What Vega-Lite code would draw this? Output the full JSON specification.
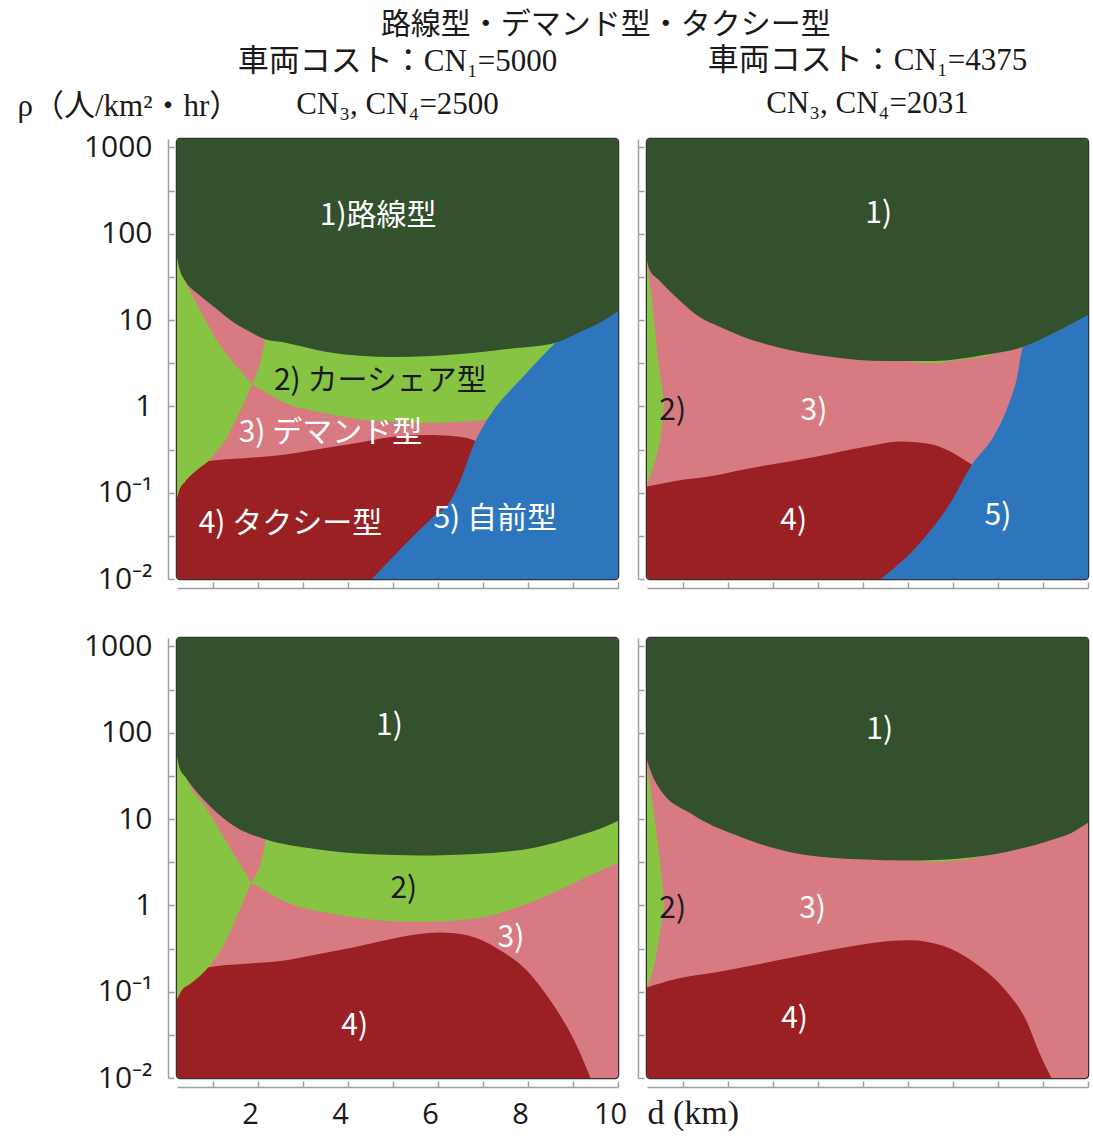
{
"$schema": "https://vega.github.io/schema/vega-lite/v6.json",
"background": "white",
"padding": {"left": 15, "top": 9, "right": 2, "bottom": 2},
"title": {"text": "路線型・デマンド型・タクシー型", "font": "Noto Sans CJK JP", "fontSize": 30, "fontWeight": "normal", "color": "#1a1a1a", "anchor": "middle", "dx": 53, "offset": 4},
"datasets": {
"p1": [
{"r":"3","x":0.2,"lo":0.01,"hi":1250},{"r":"3","x":10,"lo":0.01,"hi":1250},
{"r":"4","x":0.2,"lo":0.01,"hi":0.087},{"r":"4","x":0.24,"lo":0.01,"hi":0.104},{"r":"4","x":0.38,"lo":0.01,"hi":0.135},{"r":"4","x":0.53,"lo":0.01,"hi":0.163},{"r":"4","x":0.68,"lo":0.01,"hi":0.19},{"r":"4","x":0.9,"lo":0.01,"hi":0.232},{"r":"4","x":1.7,"lo":0.01,"hi":0.25},{"r":"4","x":2.61,"lo":0.01,"hi":0.277},{"r":"4","x":3.53,"lo":0.01,"hi":0.331},{"r":"4","x":4.3,"lo":0.01,"hi":0.384},{"r":"4","x":5.12,"lo":0.01,"hi":0.45},{"r":"4","x":5.87,"lo":0.01,"hi":0.465},{"r":"4","x":6.61,"lo":0.01,"hi":0.432},{"r":"4","x":6.83,"lo":0.01,"hi":0.396},{"r":"4","x":7.2,"lo":0.01,"hi":0.3},
{"r":"2B","x":1.87,"lo":1.8,"hi":1.8},{"r":"2B","x":2.16,"lo":1.47,"hi":6.1},{"r":"2B","x":2.61,"lo":1.09,"hi":1250},{"r":"2B","x":3.5,"lo":0.83,"hi":1250},{"r":"2B","x":4.27,"lo":0.706,"hi":1250},{"r":"2B","x":5.0,"lo":0.665,"hi":1250},{"r":"2B","x":5.76,"lo":0.645,"hi":1250},{"r":"2B","x":6.4,"lo":0.66,"hi":1250},{"r":"2B","x":7.09,"lo":0.706,"hi":1250},{"r":"2B","x":8.0,"lo":0.85,"hi":1250},{"r":"2B","x":10,"lo":1.0,"hi":1250},
{"r":"5","x":4.53,"lo":0.01,"hi":0.01},{"r":"5","x":5.12,"lo":0.01,"hi":0.021},{"r":"5","x":5.87,"lo":0.01,"hi":0.0512},{"r":"5","x":6.27,"lo":0.01,"hi":0.08},{"r":"5","x":6.46,"lo":0.01,"hi":0.125},{"r":"5","x":6.83,"lo":0.01,"hi":0.396},{"r":"5","x":7.12,"lo":0.01,"hi":0.738},{"r":"5","x":7.87,"lo":0.01,"hi":2.14},{"r":"5","x":8.61,"lo":0.01,"hi":5.46},{"r":"5","x":10,"lo":0.01,"hi":20},
{"r":"2L","x":0.2,"lo":0.087,"hi":52.7},{"r":"2L","x":0.24,"lo":0.104,"hi":45},{"r":"2L","x":0.38,"lo":0.135,"hi":28},{"r":"2L","x":0.53,"lo":0.163,"hi":19.7},{"r":"2L","x":0.68,"lo":0.19,"hi":13.9},{"r":"2L","x":0.9,"lo":0.232,"hi":8.6},{"r":"2L","x":1.05,"lo":0.288,"hi":6.2},{"r":"2L","x":1.27,"lo":0.396,"hi":4.3},{"r":"2L","x":1.42,"lo":0.565,"hi":3.35},{"r":"2L","x":1.57,"lo":0.81,"hi":2.72},{"r":"2L","x":1.87,"lo":1.8,"hi":1.8},
{"r":"1","x":0.2,"lo":52.7,"hi":1250},{"r":"1","x":0.25,"lo":40,"hi":1250},{"r":"1","x":0.38,"lo":28.5,"hi":1250},{"r":"1","x":0.68,"lo":19.8,"hi":1250},{"r":"1","x":1.05,"lo":13.9,"hi":1250},{"r":"1","x":1.42,"lo":9.7,"hi":1250},{"r":"1","x":1.79,"lo":7.45,"hi":1250},{"r":"1","x":2.16,"lo":5.97,"hi":1250},{"r":"1","x":2.61,"lo":5.46,"hi":1250},{"r":"1","x":3.5,"lo":4.3,"hi":1250},{"r":"1","x":5.01,"lo":3.72,"hi":1250},{"r":"1","x":6.5,"lo":4.03,"hi":1250},{"r":"1","x":7.53,"lo":4.61,"hi":1250},{"r":"1","x":8.61,"lo":5.46,"hi":1250},{"r":"1","x":9.2,"lo":7.45,"hi":1250},{"r":"1","x":9.6,"lo":9.3,"hi":1250},{"r":"1","x":10,"lo":12.7,"hi":1250},
{"r":"t","x":4.67,"lo":160,"t":"1)路線型"},{"r":"t","x":4.72,"lo":1.96,"t":"2) カーシェア型"},{"r":"t","x":3.61,"lo":0.49,"t":"3) デマンド型"},{"r":"t","x":2.72,"lo":0.043,"t":"4) タクシー型"},{"r":"t","x":7.27,"lo":0.049,"t":"5) 自前型"}
],
"p2": [
{"r":"3","x":0.2,"lo":0.01,"hi":1250},{"r":"3","x":10,"lo":0.01,"hi":1250},
{"r":"4","x":0.2,"lo":0.01,"hi":0.118},{"r":"4","x":0.77,"lo":0.01,"hi":0.135},{"r":"4","x":1.8,"lo":0.01,"hi":0.161},{"r":"4","x":2.13,"lo":0.01,"hi":0.176},{"r":"4","x":3.98,"lo":0.01,"hi":0.263},{"r":"4","x":5.09,"lo":0.01,"hi":0.343},{"r":"4","x":5.83,"lo":0.01,"hi":0.392},{"r":"4","x":6.2,"lo":0.01,"hi":0.385},{"r":"4","x":6.57,"lo":0.01,"hi":0.359},{"r":"4","x":7.31,"lo":0.01,"hi":0.23},{"r":"4","x":7.42,"lo":0.01,"hi":0.211},{"r":"4","x":7.8,"lo":0.01,"hi":0.12},
{"r":"5","x":5.39,"lo":0.01,"hi":0.01},{"r":"5","x":6.2,"lo":0.01,"hi":0.024},{"r":"5","x":6.94,"lo":0.01,"hi":0.0759},{"r":"5","x":7.42,"lo":0.01,"hi":0.211},{"r":"5","x":7.9,"lo":0.01,"hi":0.448},{"r":"5","x":8.19,"lo":0.01,"hi":0.91},{"r":"5","x":8.41,"lo":0.01,"hi":2.02},{"r":"5","x":8.56,"lo":0.01,"hi":4.9},{"r":"5","x":10,"lo":0.01,"hi":16},
{"r":"2L","x":0.2,"lo":0.125,"hi":45},{"r":"2L","x":0.32,"lo":0.185,"hi":15.5},{"r":"2L","x":0.37,"lo":0.22,"hi":8.5},{"r":"2L","x":0.43,"lo":0.3,"hi":4.1},{"r":"2L","x":0.51,"lo":0.45,"hi":2.03},{"r":"2L","x":0.58,"lo":1.09,"hi":1.09},
{"r":"2T","x":5.9,"lo":3.35,"hi":50},{"r":"2T","x":6.57,"lo":3.17,"hi":50},{"r":"2T","x":7.2,"lo":3.5,"hi":50},{"r":"2T","x":7.68,"lo":3.78,"hi":50},{"r":"2T","x":8.0,"lo":4.2,"hi":50},
{"r":"1","x":0.2,"lo":49,"hi":1250},{"r":"1","x":0.25,"lo":39,"hi":1250},{"r":"1","x":0.47,"lo":28.9,"hi":1250},{"r":"1","x":0.92,"lo":17,"hi":1250},{"r":"1","x":1.36,"lo":10.9,"hi":1250},{"r":"1","x":1.8,"lo":8.4,"hi":1250},{"r":"1","x":2.3,"lo":6.5,"hi":1250},{"r":"1","x":2.87,"lo":5.2,"hi":1250},{"r":"1","x":4.35,"lo":3.7,"hi":1250},{"r":"1","x":5.46,"lo":3.35,"hi":1250},{"r":"1","x":6.57,"lo":3.35,"hi":1250},{"r":"1","x":7.68,"lo":3.93,"hi":1250},{"r":"1","x":8.56,"lo":4.9,"hi":1250},{"r":"1","x":9.37,"lo":7.66,"hi":1250},{"r":"1","x":10,"lo":11.4,"hi":1250},
{"r":"t","x":5.35,"lo":170,"t":"1)"},{"r":"t","x":0.77,"lo":0.875,"t":"2)"},{"r":"t","x":3.91,"lo":0.875,"t":"3)"},{"r":"t","x":3.46,"lo":0.047,"t":"4)"},{"r":"t","x":8.0,"lo":0.054,"t":"5)"}
],
"p3": [
{"r":"3","x":0.2,"lo":0.01,"hi":1250},{"r":"3","x":10,"lo":0.01,"hi":1250},
{"r":"4","x":0.2,"lo":0.01,"hi":0.082},{"r":"4","x":0.32,"lo":0.01,"hi":0.107},{"r":"4","x":0.48,"lo":0.01,"hi":0.122},{"r":"4","x":0.89,"lo":0.01,"hi":0.19},{"r":"4","x":1.7,"lo":0.01,"hi":0.21},{"r":"4","x":2.5,"lo":0.01,"hi":0.227},{"r":"4","x":3.3,"lo":0.01,"hi":0.27},{"r":"4","x":4.11,"lo":0.01,"hi":0.324},{"r":"4","x":4.7,"lo":0.01,"hi":0.38},{"r":"4","x":5.32,"lo":0.01,"hi":0.443},{"r":"4","x":6.05,"lo":0.01,"hi":0.484},{"r":"4","x":6.69,"lo":0.01,"hi":0.443},{"r":"4","x":7.34,"lo":0.01,"hi":0.311},{"r":"4","x":7.98,"lo":0.01,"hi":0.175},{"r":"4","x":8.55,"lo":0.01,"hi":0.0718},{"r":"4","x":9.03,"lo":0.01,"hi":0.027},{"r":"4","x":9.39,"lo":0.01,"hi":0.01},
{"r":"2B","x":1.85,"lo":1.83,"hi":1.83},{"r":"2B","x":2.18,"lo":1.46,"hi":6.0},{"r":"2B","x":2.5,"lo":1.17,"hi":1250},{"r":"2B","x":3.71,"lo":0.787,"hi":1250},{"r":"2B","x":4.92,"lo":0.66,"hi":1250},{"r":"2B","x":5.73,"lo":0.644,"hi":1250},{"r":"2B","x":6.93,"lo":0.724,"hi":1250},{"r":"2B","x":8.14,"lo":1.12,"hi":1250},{"r":"2B","x":9.11,"lo":1.92,"hi":1250},{"r":"2B","x":10,"lo":3.12,"hi":1250},
{"r":"2L","x":0.2,"lo":0.082,"hi":53.5},{"r":"2L","x":0.32,"lo":0.107,"hi":38},{"r":"2L","x":0.44,"lo":0.118,"hi":27.4},{"r":"2L","x":0.89,"lo":0.19,"hi":12.4},{"r":"2L","x":1.29,"lo":0.389,"hi":5.57},{"r":"2L","x":1.61,"lo":0.94,"hi":2.95},{"r":"2L","x":1.85,"lo":1.83,"hi":1.83},
{"r":"1","x":0.2,"lo":53.5,"hi":1250},{"r":"1","x":0.25,"lo":40,"hi":1250},{"r":"1","x":0.4,"lo":30,"hi":1250},{"r":"1","x":0.89,"lo":14.8,"hi":1250},{"r":"1","x":1.53,"lo":7.9,"hi":1250},{"r":"1","x":2.18,"lo":5.8,"hi":1250},{"r":"1","x":3.31,"lo":4.47,"hi":1250},{"r":"1","x":4.51,"lo":3.9,"hi":1250},{"r":"1","x":5.56,"lo":3.79,"hi":1250},{"r":"1","x":6.93,"lo":3.97,"hi":1250},{"r":"1","x":8.14,"lo":4.66,"hi":1250},{"r":"1","x":9.11,"lo":6.35,"hi":1250},{"r":"1","x":9.6,"lo":7.7,"hi":1250},{"r":"1","x":10,"lo":9.5,"hi":1250},
{"r":"t","x":4.92,"lo":119,"t":"1)"},{"r":"t","x":5.24,"lo":1.53,"t":"2)"},{"r":"t","x":7.62,"lo":0.42,"t":"3)"},{"r":"t","x":4.15,"lo":0.04,"t":"4)"}
],
"p4": [
{"r":"3","x":0.2,"lo":0.01,"hi":1250},{"r":"3","x":10,"lo":0.01,"hi":1250},
{"r":"4","x":0.2,"lo":0.01,"hi":0.112},{"r":"4","x":0.84,"lo":0.01,"hi":0.14},{"r":"4","x":1.8,"lo":0.01,"hi":0.17},{"r":"4","x":2.7,"lo":0.01,"hi":0.209},{"r":"4","x":3.45,"lo":0.01,"hi":0.25},{"r":"4","x":4.18,"lo":0.01,"hi":0.297},{"r":"4","x":4.75,"lo":0.01,"hi":0.335},{"r":"4","x":5.29,"lo":0.01,"hi":0.372},{"r":"4","x":6.03,"lo":0.01,"hi":0.395},{"r":"4","x":6.78,"lo":0.01,"hi":0.34},{"r":"4","x":7.52,"lo":0.01,"hi":0.209},{"r":"4","x":8.11,"lo":0.01,"hi":0.112},{"r":"4","x":8.63,"lo":0.01,"hi":0.046},{"r":"4","x":8.93,"lo":0.01,"hi":0.019},{"r":"4","x":9.19,"lo":0.01,"hi":0.01},
{"r":"2L","x":0.2,"lo":0.112,"hi":42.6},{"r":"2L","x":0.33,"lo":0.175,"hi":14.6},{"r":"2L","x":0.47,"lo":0.42,"hi":3.88},{"r":"2L","x":0.585,"lo":1.03,"hi":1.03},
{"r":"2T","x":5.8,"lo":3.32,"hi":50},{"r":"2T","x":6.6,"lo":3.2,"hi":50},{"r":"2T","x":7.3,"lo":3.42,"hi":50},{"r":"2T","x":7.9,"lo":3.95,"hi":50},
{"r":"1","x":0.2,"lo":48.4,"hi":1250},{"r":"1","x":0.28,"lo":36,"hi":1250},{"r":"1","x":0.47,"lo":22.9,"hi":1250},{"r":"1","x":1.22,"lo":11.2,"hi":1250},{"r":"1","x":2.33,"lo":6.07,"hi":1250},{"r":"1","x":3.44,"lo":4.07,"hi":1250},{"r":"1","x":4.92,"lo":3.41,"hi":1250},{"r":"1","x":6.03,"lo":3.3,"hi":1250},{"r":"1","x":7.15,"lo":3.49,"hi":1250},{"r":"1","x":8.26,"lo":4.24,"hi":1250},{"r":"1","x":9.22,"lo":5.78,"hi":1250},{"r":"1","x":9.65,"lo":7,"hi":1250},{"r":"1","x":10,"lo":9.04,"hi":1250},
{"r":"t","x":5.37,"lo":108,"t":"1)"},{"r":"t","x":0.77,"lo":0.9,"t":"2)"},{"r":"t","x":3.88,"lo":0.9,"t":"3)"},{"r":"t","x":3.48,"lo":0.048,"t":"4)"}
]
},
"columns": 2,
"spacing": {"row": 34, "column": 8},
"concat": [
{
"width": 441, "height": 440,
"title": {"text": ["車両コスト：CN₁=5000", "CN₃, CN₄=2500"], "font": "'Liberation Serif', 'Noto Sans CJK JP'", "fontSize": 31, "fontWeight": "normal", "lineHeight": 43, "color": "#1a1a1a", "frame": "group", "anchor": "middle", "offset": 0, "dy": 31},
"data": {"name": "p1"},
"encoding": {
"x": {"field": "x", "type": "quantitative", "scale": {"domain": [0.2, 10], "nice": false, "zero": false}, "axis": {"values": [1,2,3,4,5,6,7,8,9,10], "labels": false, "title": null, "offset": 9, "tickSize": -6, "domainColor": "#a0a0a0", "tickColor": "#a0a0a0", "domainWidth": 1.5, "tickWidth": 1.5, "grid": false}},
"y": {"field": "lo", "type": "quantitative", "scale": {"type": "log", "domain": [0.01, 1250], "nice": false}, "axis": {"values": [0.01,0.0316,0.1,0.316,1,3.16,10,31.6,100,316,1000], "labelExpr": "datum.value==1000?'1000':datum.value==100?'100':datum.value==10?'10':datum.value==1?'1':datum.value==0.1?'10⁻¹':datum.value==0.01?'10⁻²':''", "labelFont": "Open Sans", "labelFontSize": 30, "labelColor": "#1a1a1a", "labelPadding": 22, "labelOverlap": false, "labelFlush": false, "offset": 9, "tickSize": -6, "domainColor": "#a0a0a0", "tickColor": "#a0a0a0", "domainWidth": 1.5, "tickWidth": 1.5, "grid": false, "title": "ρ（人/km²・hr）", "titleFont": "'Liberation Serif', 'Noto Sans CJK JP'", "titleFontSize": 31, "titleFontWeight": "normal", "titleColor": "#1a1a1a", "titleAngle": 0, "titleAlign": "left", "titleBaseline": "middle", "titleX": -151, "titleY": -33}}
},
"layer": [
{"transform": [{"filter": "datum.r=='3'"}], "mark": {"type": "area", "color": "#D87A82", "clip": true}, "encoding": {"y2": {"field": "hi"}}},
{"transform": [{"filter": "datum.r=='4'"}], "mark": {"type": "area", "color": "#9B2023", "clip": true, "interpolate": "monotone"}, "encoding": {"y2": {"field": "hi"}}},
{"transform": [{"filter": "datum.r=='2B'"}], "mark": {"type": "area", "color": "#88C443", "clip": true, "interpolate": "monotone"}, "encoding": {"y2": {"field": "hi"}}},
{"transform": [{"filter": "datum.r=='5'"}], "mark": {"type": "area", "color": "#2D76BD", "clip": true, "interpolate": "monotone"}, "encoding": {"y2": {"field": "hi"}}},
{"transform": [{"filter": "datum.r=='2L'"}], "mark": {"type": "area", "color": "#88C443", "clip": true, "interpolate": "monotone"}, "encoding": {"y2": {"field": "hi"}}},
{"transform": [{"filter": "datum.r=='1'"}], "mark": {"type": "area", "color": "#33512D", "clip": true, "interpolate": "monotone"}, "encoding": {"y2": {"field": "hi"}}},
{"transform": [{"filter": "datum.r=='t'"}], "mark": {"type": "text", "font": "Noto Sans CJK JP", "fontSize": 30, "align": "center", "baseline": "middle"}, "encoding": {"text": {"field": "t"}, "color": {"condition": {"test": "indexof(datum.t,'2)')==0", "value": "#1a1a1a"}, "value": "#ffffff"}}}
]
},
{
"width": 441, "height": 440,
"title": {"text": ["車両コスト：CN₁=4375", "CN₃, CN₄=2031"], "font": "'Liberation Serif', 'Noto Sans CJK JP'", "fontSize": 31, "fontWeight": "normal", "lineHeight": 43, "color": "#1a1a1a", "frame": "group", "anchor": "middle", "offset": 19},
"data": {"name": "p2"},
"encoding": {
"x": {"field": "x", "type": "quantitative", "scale": {"domain": [0.2, 10], "nice": false, "zero": false}, "axis": {"values": [1,2,3,4,5,6,7,8,9,10], "labels": false, "title": null, "offset": 9, "tickSize": -6, "domainColor": "#a0a0a0", "tickColor": "#a0a0a0", "domainWidth": 1.5, "tickWidth": 1.5, "grid": false}},
"y": {"field": "lo", "type": "quantitative", "scale": {"type": "log", "domain": [0.01, 1250], "nice": false}, "axis": {"values": [0.01,0.0316,0.1,0.316,1,3.16,10,31.6,100,316,1000], "labels": false, "offset": 9, "tickSize": -6, "domainColor": "#a0a0a0", "tickColor": "#a0a0a0", "domainWidth": 1.5, "tickWidth": 1.5, "grid": false, "title": null}}
},
"layer": [
{"transform": [{"filter": "datum.r=='3'"}], "mark": {"type": "area", "color": "#D87A82", "clip": true}, "encoding": {"y2": {"field": "hi"}}},
{"transform": [{"filter": "datum.r=='4'"}], "mark": {"type": "area", "color": "#9B2023", "clip": true, "interpolate": "monotone"}, "encoding": {"y2": {"field": "hi"}}},
{"transform": [{"filter": "datum.r=='5'"}], "mark": {"type": "area", "color": "#2D76BD", "clip": true, "interpolate": "monotone"}, "encoding": {"y2": {"field": "hi"}}},
{"transform": [{"filter": "datum.r=='2L'"}], "mark": {"type": "area", "color": "#88C443", "clip": true, "interpolate": "monotone"}, "encoding": {"y2": {"field": "hi"}}},
{"transform": [{"filter": "datum.r=='2T'"}], "mark": {"type": "area", "color": "#88C443", "clip": true, "interpolate": "monotone"}, "encoding": {"y2": {"field": "hi"}}},
{"transform": [{"filter": "datum.r=='1'"}], "mark": {"type": "area", "color": "#33512D", "clip": true, "interpolate": "monotone"}, "encoding": {"y2": {"field": "hi"}}},
{"transform": [{"filter": "datum.r=='t'"}], "mark": {"type": "text", "font": "Noto Sans CJK JP", "fontSize": 30, "align": "center", "baseline": "middle"}, "encoding": {"text": {"field": "t"}, "color": {"condition": {"test": "indexof(datum.t,'2)')==0", "value": "#1a1a1a"}, "value": "#ffffff"}}}
]
},
{
"width": 441, "height": 440,
"data": {"name": "p3"},
"encoding": {
"x": {"field": "x", "type": "quantitative", "scale": {"domain": [0.2, 10], "nice": false, "zero": false}, "axis": {"values": [1,2,3,4,5,6,7,8,9,10], "labelExpr": "datum.value % 2 == 0 ? datum.label : ''", "labelFont": "Open Sans", "labelFontSize": 29, "labelColor": "#1a1a1a", "labelPadding": 19, "labelOffset": -8, "labelOverlap": false, "labelFlush": false, "title": null, "offset": 9, "tickSize": -6, "domainColor": "#a0a0a0", "tickColor": "#a0a0a0", "domainWidth": 1.5, "tickWidth": 1.5, "grid": false}},
"y": {"field": "lo", "type": "quantitative", "scale": {"type": "log", "domain": [0.01, 1250], "nice": false}, "axis": {"values": [0.01,0.0316,0.1,0.316,1,3.16,10,31.6,100,316,1000], "labelExpr": "datum.value==1000?'1000':datum.value==100?'100':datum.value==10?'10':datum.value==1?'1':datum.value==0.1?'10⁻¹':datum.value==0.01?'10⁻²':''", "labelFont": "Open Sans", "labelFontSize": 30, "labelColor": "#1a1a1a", "labelPadding": 22, "labelOverlap": false, "labelFlush": false, "offset": 9, "tickSize": -6, "domainColor": "#a0a0a0", "tickColor": "#a0a0a0", "domainWidth": 1.5, "tickWidth": 1.5, "grid": false, "title": null}}
},
"layer": [
{"transform": [{"filter": "datum.r=='3'"}], "mark": {"type": "area", "color": "#D87A82", "clip": true}, "encoding": {"y2": {"field": "hi"}}},
{"transform": [{"filter": "datum.r=='4'"}], "mark": {"type": "area", "color": "#9B2023", "clip": true, "interpolate": "monotone"}, "encoding": {"y2": {"field": "hi"}}},
{"transform": [{"filter": "datum.r=='2B'"}], "mark": {"type": "area", "color": "#88C443", "clip": true, "interpolate": "monotone"}, "encoding": {"y2": {"field": "hi"}}},
{"transform": [{"filter": "datum.r=='2L'"}], "mark": {"type": "area", "color": "#88C443", "clip": true, "interpolate": "monotone"}, "encoding": {"y2": {"field": "hi"}}},
{"transform": [{"filter": "datum.r=='1'"}], "mark": {"type": "area", "color": "#33512D", "clip": true, "interpolate": "monotone"}, "encoding": {"y2": {"field": "hi"}}},
{"transform": [{"filter": "datum.r=='t'"}], "mark": {"type": "text", "font": "Noto Sans CJK JP", "fontSize": 30, "align": "center", "baseline": "middle"}, "encoding": {"text": {"field": "t"}, "color": {"condition": {"test": "indexof(datum.t,'2)')==0", "value": "#1a1a1a"}, "value": "#ffffff"}}}
]
},
{
"width": 441, "height": 440,
"data": {"name": "p4"},
"encoding": {
"x": {"field": "x", "type": "quantitative", "scale": {"domain": [0.2, 10], "nice": false, "zero": false}, "axis": {"values": [1,2,3,4,5,6,7,8,9,10], "labels": false, "title": "d (km)", "titleFont": "'Liberation Serif'", "titleFontSize": 34, "titleFontWeight": "normal", "titleColor": "#1a1a1a", "titleAnchor": "start", "titleAlign": "left", "titleBaseline": "middle", "titleX": 0, "titleY": 26, "offset": 9, "tickSize": -6, "domainColor": "#a0a0a0", "tickColor": "#a0a0a0", "domainWidth": 1.5, "tickWidth": 1.5, "grid": false}},
"y": {"field": "lo", "type": "quantitative", "scale": {"type": "log", "domain": [0.01, 1250], "nice": false}, "axis": {"values": [0.01,0.0316,0.1,0.316,1,3.16,10,31.6,100,316,1000], "labels": false, "offset": 9, "tickSize": -6, "domainColor": "#a0a0a0", "tickColor": "#a0a0a0", "domainWidth": 1.5, "tickWidth": 1.5, "grid": false, "title": null}}
},
"layer": [
{"transform": [{"filter": "datum.r=='3'"}], "mark": {"type": "area", "color": "#D87A82", "clip": true}, "encoding": {"y2": {"field": "hi"}}},
{"transform": [{"filter": "datum.r=='4'"}], "mark": {"type": "area", "color": "#9B2023", "clip": true, "interpolate": "monotone"}, "encoding": {"y2": {"field": "hi"}}},
{"transform": [{"filter": "datum.r=='2L'"}], "mark": {"type": "area", "color": "#88C443", "clip": true, "interpolate": "monotone"}, "encoding": {"y2": {"field": "hi"}}},
{"transform": [{"filter": "datum.r=='2T'"}], "mark": {"type": "area", "color": "#88C443", "clip": true, "interpolate": "monotone"}, "encoding": {"y2": {"field": "hi"}}},
{"transform": [{"filter": "datum.r=='1'"}], "mark": {"type": "area", "color": "#33512D", "clip": true, "interpolate": "monotone"}, "encoding": {"y2": {"field": "hi"}}},
{"transform": [{"filter": "datum.r=='t'"}], "mark": {"type": "text", "font": "Noto Sans CJK JP", "fontSize": 30, "align": "center", "baseline": "middle"}, "encoding": {"text": {"field": "t"}, "color": {"condition": {"test": "indexof(datum.t,'2)')==0", "value": "#1a1a1a"}, "value": "#ffffff"}}}
]
}
],
"config": {"view": {"stroke": "#333333", "strokeWidth": 2.5, "cornerRadius": 3}}
}
